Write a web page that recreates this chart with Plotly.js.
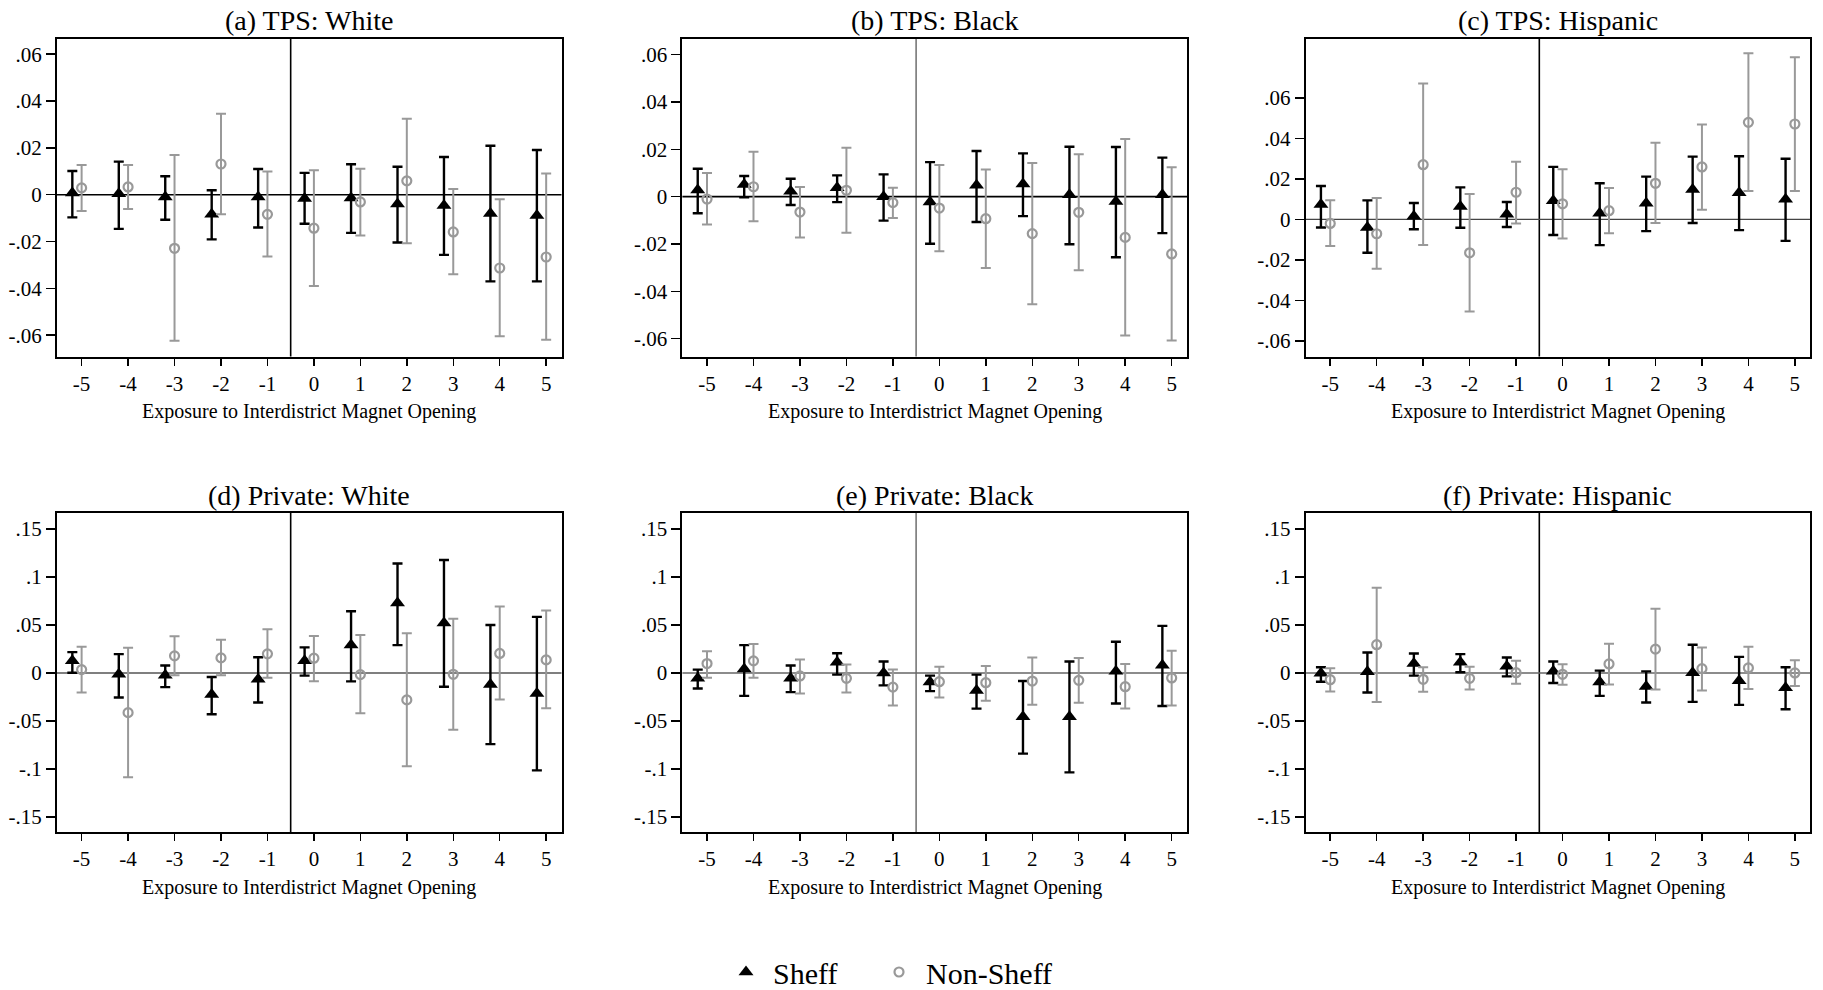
<!DOCTYPE html>
<html>
<head>
<meta charset="utf-8">
<script src="https://cdn.plot.ly/plotly-3.0.1.min.js"></script>
<style>html,body{margin:0;padding:0;background:#fff;}#chart{width:1823px;height:990px;}</style>
</head>
<body>
<div id="chart"></div>
<script>
// ---------- DATA ----------
const events = [-5, -4, -3, -2, -1, 0, 1, 2, 3, 4, 5];
const eventLabels = ["-5", "-4", "-3", "-2", "-1", "0", "1", "2", "3", "4", "5"];

const panelTitles = ["(a) TPS: White", "(b) TPS: Black", "(c) TPS: Hispanic",
                     "(d) Private: White", "(e) Private: Black", "(f) Private: Hispanic"];
const xAxisTitle = "Exposure to Interdistrict Magnet Opening";
const seriesNames = ["Sheff", "Non-Sheff"];

const tpsTickVals = [-0.06, -0.04, -0.02, 0, 0.02, 0.04, 0.06];
const tpsTickText = ["-.06", "-.04", "-.02", "0", ".02", ".04", ".06"];
const privTickVals = [-0.15, -0.1, -0.05, 0, 0.05, 0.1, 0.15];
const privTickText = ["-.15", "-.1", "-.05", "0", ".05", ".1", ".15"];

// (a) TPS: White
const a_sheff_est = [0.0007, 0.0004, -0.0010, -0.0083, -0.0010, -0.0016, -0.0014, -0.0040, -0.0046, -0.0080, -0.0089];
const a_sheff_lo  = [-0.0097, -0.0146, -0.0107, -0.0191, -0.0140, -0.0124, -0.0163, -0.0204, -0.0257, -0.0370, -0.0370];
const a_sheff_hi  = [0.0101, 0.0141, 0.0079, 0.0019, 0.0110, 0.0093, 0.0130, 0.0119, 0.0161, 0.0209, 0.0191];
const a_non_est = [0.0029, 0.0033, -0.0229, 0.0131, -0.0084, -0.0143, -0.0031, 0.0059, -0.0159, -0.0313, -0.0266];
const a_non_lo  = [-0.0070, -0.0061, -0.0624, -0.0084, -0.0264, -0.0390, -0.0174, -0.0207, -0.0340, -0.0604, -0.0619];
const a_non_hi  = [0.0127, 0.0127, 0.0170, 0.0346, 0.0099, 0.0104, 0.0111, 0.0324, 0.0024, -0.0020, 0.0090];

// (b) TPS: Black
const b_sheff_est = [0.0028, 0.0051, 0.0023, 0.0038, 0.0000, -0.0023, 0.0048, 0.0054, 0.0008, -0.0020, 0.0008];
const b_sheff_lo  = [-0.0070, -0.0003, -0.0035, -0.0023, -0.0101, -0.0199, -0.0107, -0.0082, -0.0201, -0.0256, -0.0154];
const b_sheff_hi  = [0.0118, 0.0087, 0.0076, 0.0090, 0.0094, 0.0146, 0.0193, 0.0183, 0.0211, 0.0210, 0.0165];
const b_non_est = [-0.0010, 0.0042, -0.0065, 0.0027, -0.0025, -0.0048, -0.0093, -0.0156, -0.0066, -0.0172, -0.0242];
const b_non_lo  = [-0.0118, -0.0104, -0.0172, -0.0152, -0.0090, -0.0231, -0.0301, -0.0454, -0.0311, -0.0586, -0.0607];
const b_non_hi  = [0.0100, 0.0190, 0.0041, 0.0207, 0.0038, 0.0134, 0.0115, 0.0142, 0.0179, 0.0244, 0.0124];

// (c) TPS: Hispanic
const c_sheff_est = [0.0074, -0.0040, 0.0016, 0.0063, 0.0025, 0.0092, 0.0030, 0.0079, 0.0147, 0.0132, 0.0099];
const c_sheff_lo  = [-0.0040, -0.0165, -0.0049, -0.0041, -0.0038, -0.0077, -0.0127, -0.0058, -0.0018, -0.0053, -0.0106];
const c_sheff_hi  = [0.0165, 0.0094, 0.0081, 0.0158, 0.0086, 0.0259, 0.0178, 0.0211, 0.0310, 0.0312, 0.0299];
const c_non_est = [-0.0020, -0.0071, 0.0270, -0.0165, 0.0134, 0.0077, 0.0043, 0.0178, 0.0259, 0.0479, 0.0471];
const c_non_lo  = [-0.0132, -0.0244, -0.0127, -0.0455, -0.0020, -0.0094, -0.0069, -0.0018, 0.0048, 0.0140, 0.0140];
const c_non_hi  = [0.0094, 0.0106, 0.0671, 0.0125, 0.0284, 0.0247, 0.0155, 0.0378, 0.0468, 0.0820, 0.0800];

// (d) Private: White
const d_sheff_est = [0.0126, -0.0014, -0.0024, -0.0224, -0.0066, 0.0126, 0.0290, 0.0727, 0.0521, -0.0119, -0.0213];
const d_sheff_lo  = [0.0003, -0.0255, -0.0147, -0.0430, -0.0308, -0.0028, -0.0087, 0.0290, -0.0143, -0.0741, -0.1014];
const d_sheff_hi  = [0.0217, 0.0196, 0.0077, -0.0042, 0.0164, 0.0266, 0.0643, 0.1140, 0.1175, 0.0500, 0.0584];
const d_non_est = [0.0035, -0.0413, 0.0178, 0.0157, 0.0199, 0.0154, -0.0017, -0.0280, -0.0014, 0.0203, 0.0136];
const d_non_lo  = [-0.0203, -0.1084, -0.0024, -0.0024, -0.0049, -0.0087, -0.0420, -0.0972, -0.0591, -0.0276, -0.0367];
const d_non_hi  = [0.0273, 0.0262, 0.0381, 0.0346, 0.0455, 0.0385, 0.0395, 0.0413, 0.0563, 0.0692, 0.0650];

// (e) Private: Black
const e_sheff_est = [-0.0056, 0.0042, -0.0056, 0.0112, 0.0000, -0.0094, -0.0182, -0.0455, -0.0455, 0.0017, 0.0080];
const e_sheff_lo  = [-0.0161, -0.0238, -0.0199, -0.0017, -0.0129, -0.0189, -0.0371, -0.0839, -0.1035, -0.0318, -0.0343];
const e_sheff_hi  = [0.0035, 0.0290, 0.0077, 0.0206, 0.0119, -0.0028, -0.0017, -0.0084, 0.0119, 0.0325, 0.0490];
const e_non_est = [0.0098, 0.0126, -0.0031, -0.0056, -0.0147, -0.0091, -0.0101, -0.0084, -0.0077, -0.0143, -0.0052];
const e_non_lo  = [-0.0049, -0.0049, -0.0213, -0.0203, -0.0339, -0.0255, -0.0290, -0.0332, -0.0311, -0.0371, -0.0339];
const e_non_hi  = [0.0227, 0.0301, 0.0140, 0.0087, 0.0035, 0.0066, 0.0073, 0.0161, 0.0157, 0.0094, 0.0231];

// (f) Private: Hispanic
const f_sheff_est = [-0.0003, 0.0014, 0.0098, 0.0112, 0.0070, 0.0017, -0.0094, -0.0140, 0.0003, -0.0080, -0.0154];
const f_sheff_lo  = [-0.0091, -0.0203, -0.0028, 0.0007, -0.0035, -0.0105, -0.0238, -0.0308, -0.0301, -0.0332, -0.0378];
const f_sheff_hi  = [0.0059, 0.0213, 0.0203, 0.0196, 0.0161, 0.0119, 0.0024, 0.0017, 0.0294, 0.0168, 0.0059];
const f_non_est = [-0.0070, 0.0294, -0.0066, -0.0056, 0.0003, -0.0014, 0.0094, 0.0248, 0.0045, 0.0052, 0.0000];
const f_non_lo  = [-0.0192, -0.0301, -0.0196, -0.0171, -0.0112, -0.0122, -0.0119, -0.0171, -0.0182, -0.0168, -0.0136];
const f_non_hi  = [0.0049, 0.0888, 0.0059, 0.0066, 0.0126, 0.0091, 0.0304, 0.0668, 0.0266, 0.0273, 0.0133];

// ---------- LAYOUT / STYLE ----------
const W = 1823, H = 990;
const FONT = "Liberation Serif, Times New Roman, serif";
const sheffOffset = -0.2;

const panels = [
  {sh: [a_sheff_est, a_sheff_lo, a_sheff_hi], ns: [a_non_est, a_non_lo, a_non_hi], yr: [-0.0691, 0.0667], tv: tpsTickVals, tt: tpsTickText, vcol: "#000", zcol: "#000", zw: 1.6},
  {sh: [b_sheff_est, b_sheff_lo, b_sheff_hi], ns: [b_non_est, b_non_lo, b_non_hi], yr: [-0.0675, 0.0668], tv: tpsTickVals, tt: tpsTickText, vcol: "#777", zcol: "#000", zw: 1.6},
  {sh: [c_sheff_est, c_sheff_lo, c_sheff_hi], ns: [c_non_est, c_non_lo, c_non_hi], yr: [-0.0677, 0.0893], tv: tpsTickVals, tt: tpsTickText, vcol: "#000", zcol: "#444", zw: 1.1},
  {sh: [d_sheff_est, d_sheff_lo, d_sheff_hi], ns: [d_non_est, d_non_lo, d_non_hi], yr: [-0.1655, 0.167], tv: privTickVals, tt: privTickText, vcol: "#000", zcol: "#555", zw: 1.4},
  {sh: [e_sheff_est, e_sheff_lo, e_sheff_hi], ns: [e_non_est, e_non_lo, e_non_hi], yr: [-0.1655, 0.167], tv: privTickVals, tt: privTickText, vcol: "#777", zcol: "#666", zw: 1.4},
  {sh: [f_sheff_est, f_sheff_lo, f_sheff_hi], ns: [f_non_est, f_non_lo, f_non_hi], yr: [-0.1655, 0.167], tv: privTickVals, tt: privTickText, vcol: "#000", zcol: "#666", zw: 1.4}
];

// pixel boxes of plot areas
const colsPx = [[57.0, 561.5], [682.4, 1187.0], [1305.6, 1810.2]];
const rowsPx = [[38.5, 356.5], [512.5, 832]];

const legendBase = {orientation: "h", xanchor: "left", y: 1 - 972 / H, yanchor: "middle",
  font: {family: FONT, size: 30, color: "#000"}, bgcolor: "rgba(0,0,0,0)", itemwidth: 44};

const traces = [];
const layout = {
  width: W, height: H,
  margin: {l: 0, r: 0, t: 0, b: 0, autoexpand: false},
  paper_bgcolor: "#fff", plot_bgcolor: "#fff",
  font: {family: FONT, color: "#000", size: 20},
  showlegend: true,
  legend: Object.assign({}, legendBase, {x: 719 / W}),
  legend2: Object.assign({}, legendBase, {x: 872 / W}),
  annotations: [], shapes: []
};

panels.forEach((p, i) => {
  const col = i % 3, row = Math.floor(i / 3);
  const n = i + 1;
  const xa = n === 1 ? "x" : "x" + n;
  const ya = n === 1 ? "y" : "y" + n;
  const xk = n === 1 ? "xaxis" : "xaxis" + n;
  const yk = n === 1 ? "yaxis" : "yaxis" + n;
  const xd = [colsPx[col][0] / W, colsPx[col][1] / W];
  const yd = [1 - rowsPx[row][1] / H, 1 - rowsPx[row][0] / H];

  layout[xk] = {
    domain: xd, anchor: ya, range: [-5.53, 5.33],
    tickmode: "array", tickvals: events, ticktext: eventLabels,
    ticks: "outside", ticklen: 7, tickwidth: 1.5, tickcolor: "#000",
    showline: true, mirror: true, linecolor: "#000", linewidth: 2,
    showgrid: false, zeroline: false, fixedrange: true, automargin: false,
    tickfont: {family: FONT, size: 21, color: "#000"}, ticklabelstandoff: 0
  };
  layout[yk] = {
    domain: yd, anchor: xa, range: p.yr,
    tickmode: "array", tickvals: p.tv, ticktext: p.tt,
    ticks: "outside", ticklen: 9, tickwidth: 1.5, tickcolor: "#000",
    showline: true, mirror: true, linecolor: "#000", linewidth: 2,
    showgrid: false, zeroline: false, fixedrange: true, automargin: false,
    tickfont: {family: FONT, size: 21, color: "#000"}
  };

  // reference lines
  layout.shapes.push({type: "line", xref: xa, yref: ya + " domain", x0: -0.5, x1: -0.5, y0: 0, y1: 1,
                      line: {color: p.vcol, width: 1.6}, layer: "below"});
  layout.shapes.push({type: "line", xref: xa + " domain", yref: ya, x0: 0, x1: 1, y0: 0, y1: 0,
                      line: {color: p.zcol, width: p.zw}, layer: "below"});

  // panel title
  layout.annotations.push({text: panelTitles[i], xref: "paper", yref: "paper",
    x: (xd[0] + xd[1]) / 2, y: 1 - (row === 0 ? 20 : 495) / H, xanchor: "center", yanchor: "middle",
    showarrow: false, font: {family: FONT, size: 28, color: "#000"}});
  // x axis title
  layout.annotations.push({text: xAxisTitle, xref: "paper", yref: "paper",
    x: (xd[0] + xd[1]) / 2, y: 1 - (rowsPx[row][1] + 55) / H, xanchor: "center", yanchor: "middle",
    showarrow: false, font: {family: FONT, size: 20, color: "#000"}});

  const [se, sl, shi] = p.sh;
  const [ne, nl, nhi] = p.ns;
  traces.push({
    type: "scatter", mode: "markers", name: seriesNames[0], legend: "legend", showlegend: i === 0,
    xaxis: xa, yaxis: ya,
    x: events.map(e => e + sheffOffset), y: se,
    error_y: {type: "data", symmetric: false,
              array: shi.map((h, k) => h - se[k]), arrayminus: sl.map((l, k) => se[k] - l),
              color: "#000", thickness: 2.4, width: 5},
    marker: {symbol: "triangle-up", size: 13, color: "#000", line: {width: 0}},
    hoverinfo: "skip"
  });
  traces.push({
    type: "scatter", mode: "markers", name: seriesNames[1], legend: "legend2", showlegend: i === 0,
    xaxis: xa, yaxis: ya,
    x: events, y: ne,
    error_y: {type: "data", symmetric: false,
              array: nhi.map((h, k) => h - ne[k]), arrayminus: nl.map((l, k) => ne[k] - l),
              color: "#999", thickness: 2, width: 5},
    marker: {symbol: "circle-open", size: 9, color: "#999", line: {width: 2.2, color: "#999"}},
    hoverinfo: "skip"
  });
});

Plotly.newPlot("chart", traces, layout, {displayModeBar: false, staticPlot: true});
</script>
</body>
</html>
